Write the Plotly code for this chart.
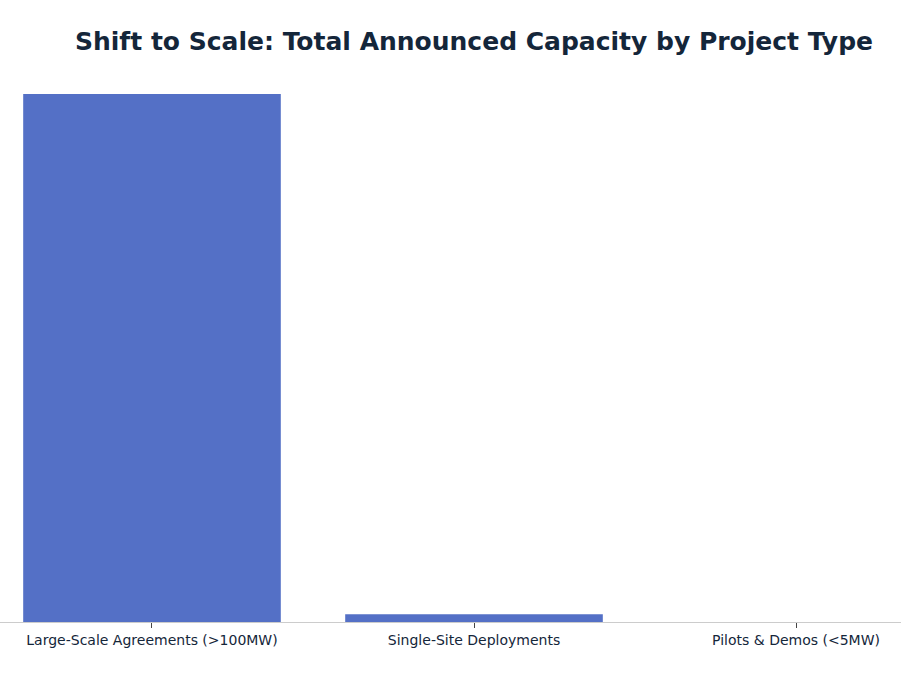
import plotly.graph_objects as go

categories = ["Large-Scale Agreements (>100MW)", "Single-Site Deployments", "Pilots & Demos (<5MW)"]
capacity_mw = [12000, 180, 1]

fig = go.Figure(go.Bar(x=categories, y=capacity_mw, marker_color="#5470c6", marker_line_width=0))

fig.update_layout(
    width=901, height=676,
    paper_bgcolor="white", plot_bgcolor="white",
    margin=dict(l=0, r=0, t=94, b=54, autoexpand=False),
    bargap=0.2,
    showlegend=False,
    font=dict(family="DejaVu Sans", color="#14263a"),
    title=dict(text="<b>Shift to Scale: Total Announced Capacity by Project Type</b>",
               x=474/901, xanchor="center", y=1-41/676, yanchor="middle",
               font=dict(size=25, color="#14263a", family="DejaVu Sans")),
)
fig.update_xaxes(range=[-0.472, 2.326], showline=True, linecolor="#cccccc", linewidth=1,
                 ticks="outside", ticklen=5, tickcolor="#444444", automargin=False,
                 tickfont=dict(size=14, color="#14263a"), showgrid=False)
fig.update_yaxes(range=[1.5, 12000], visible=False, showgrid=False)

fig.write_html("out.html", config={"displayModeBar": False},
               post_script="document.body.style.margin='0';document.body.style.padding='0';")
